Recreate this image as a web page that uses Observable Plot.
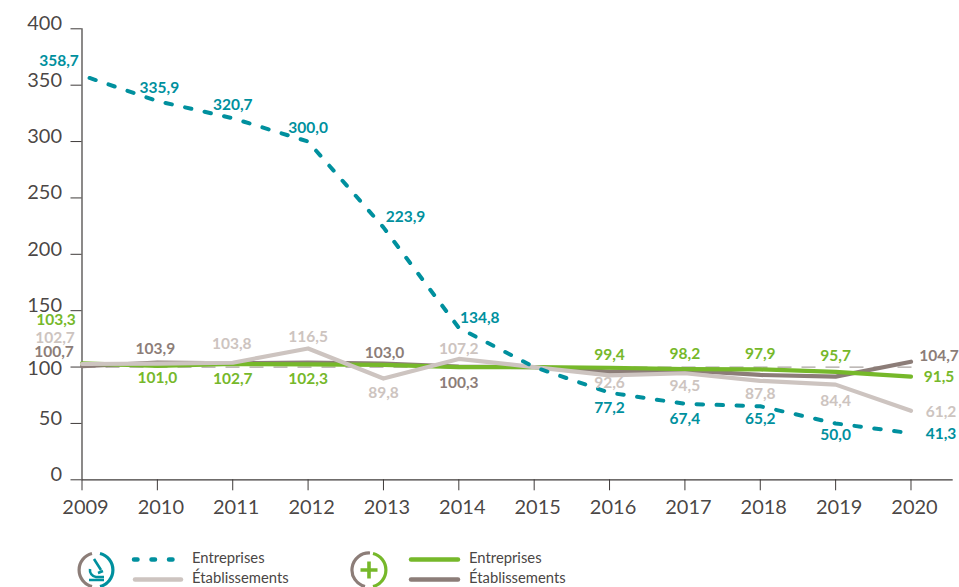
<!DOCTYPE html>
<html lang="fr">
<head>
<meta charset="utf-8">
<script src="https://cdn.jsdelivr.net/npm/d3@7"></script>
<script src="https://cdn.jsdelivr.net/npm/@observablehq/plot@0.6"></script>
<style>
html,body{margin:0;padding:0;background:#fff;overflow:hidden}
#wrap{position:relative;width:959px;height:587px;font-family:Lato,sans-serif}
#legend{position:absolute;left:0;top:0}
</style>
</head>
<body>
<div id="wrap"><div id="chart"></div>
<svg id="legend" width="959" height="587" style="pointer-events:none" font-family="Lato,sans-serif" font-size="14.8" fill="#4a4645">
  <g fill="none" stroke-width="3.2">
    <path d="M92 553.5 A17 17 0 0 0 92 586.5" stroke="#8c7d78"/>
    <path d="M100 553.5 A17 17 0 0 1 100 586.5" stroke="#00909e"/>
    <path d="M370 553 A17 17 0 0 0 365 586.5" stroke="#8c7d78"/>
    <path d="M373 553.5 A17 17 0 0 1 373 586.5" stroke="#76b82a"/>
    <path d="M369 561.5 V578.5 M360.5 570 H377.5" stroke="#76b82a" stroke-width="3.6"/>
    <path d="M94 559 L101 570 M90 569 A7 7 0 0 0 96 577 H104 M89 580 H104 M98 573 L103 571" stroke="#00909e" stroke-width="2.6"/>
  </g>
  <path d="M134 559.5 H178" fill="none" stroke="#00909e" stroke-width="4.5" stroke-linecap="round" stroke-dasharray="3.5 14"/>
  <path d="M135 579.5 H181" fill="none" stroke="#cdc4c0" stroke-width="4.5" stroke-linecap="round"/>
  <path d="M411 559.5 H458" fill="none" stroke="#76b82a" stroke-width="4.5" stroke-linecap="round"/>
  <path d="M411 579.5 H458" fill="none" stroke="#8c7d78" stroke-width="4.5" stroke-linecap="round"/>
  <text x="192" y="563">Entreprises</text>
  <text x="192" y="583">Établissements</text>
  <text x="469" y="563">Entreprises</text>
  <text x="469" y="583">Établissements</text>
</svg>
</div>
<script>
const years = [2009,2010,2011,2012,2013,2014,2015,2016,2017,2018,2019,2020];
const rdEntreprises = [358.7,335.9,320.7,300.0,223.9,134.8,100,77.2,67.4,65.2,50.0,41.3];
const rdEtablissements = [102.7,103.0,103.8,116.5,89.8,107.2,100,92.6,94.5,87.8,84.4,61.2];
const plusEntreprises = [103.3,101.0,102.7,102.3,102.0,100.0,100,99.4,98.2,97.9,95.7,91.5];
const plusEtablissements = [100.7,103.9,103.2,104.0,103.0,100.3,100,96.0,97.0,93.0,91.5,104.7];
const yTicks = [0,50,100,150,200,250,300,350,400];

const colors = {teal:"#00909e", lightGrey:"#cdc4c0", green:"#76b82a", brown:"#8c7d78"};
const ink = "#3f3b3a";

// Label placement: [index in series, dx, dy] in pixels relative to the data point.
const tealPlacement = [[0,-23,-14],[1,2,-13],[2,0,-13],[3,0,-14],[4,22,-10],[5,21,-10],[7,0,15],[8,0,15],[9,0,13],[10,0,12],[11,30,1]];
const greenPlacement = [[0,-26,-43],[1,0,12],[2,0,15],[3,0,15],[7,0,-13],[8,0,-15],[9,0,-15],[10,0,-16],[11,28,0]];
const greyPlacement = [[0,-27,-26],[2,-1,-19],[3,0,-11],[4,0,14],[5,0,-10],[7,0,8],[8,0,13],[9,0,13],[10,0,16],[11,30,1]];
const brownPlacement = [[0,-28,-14],[1,-2,-14],[4,1,-11],[5,0,16],[11,28,-6]];

const fr = v => v.toFixed(1).replace(".", ",");
const rows = s => years.map((year,i)=>({year, value:s[i]}));
const labels = (s, placement, fill) => placement.map(([i,dx,dy]) =>
  Plot.text([{year:years[i], value:s[i]}], {
    x:"year", y:"value", text:d=>fr(d.value), dx, dy, fill,
    fontSize:15.5, fontWeight:700, textAnchor:"middle", lineAnchor:"middle"
  }));

const axisText = {fontSize:20, fill:ink, fillOpacity:.95, label:null};
const plot = Plot.plot({
  width:959, height:515,
  marginLeft:81.5, marginRight:6.3, marginTop:28.3, marginBottom:35.7,
  style:{fontFamily:"Lato,sans-serif", background:"transparent", overflow:"visible"},
  x:{domain:[2009,2020.56], label:null},
  y:{domain:[0,400], label:null},
  marks:[
    Plot.axisX({ticks:years, tickSize:11, text:null, stroke:ink, strokeOpacity:1, label:null}),
    Plot.axisX({ticks:years, tickFormat:d=>String(d), tickSize:0, tickPadding:20, dx:3.5, ...axisText}),
    Plot.axisY({ticks:yTicks, tickSize:11, text:null, stroke:ink, strokeOpacity:1, label:null}),
    Plot.axisY({ticks:yTicks.filter(t=>t!==100), tickSize:0, tickPadding:20, dy:-5, ...axisText}),
    Plot.axisY({ticks:[100], tickSize:0, tickPadding:20, dy:1.5, ...axisText}),
    Plot.ruleY([0],{stroke:ink, strokeWidth:1.2}),
    Plot.ruleX([2009],{stroke:ink, strokeWidth:1.2}),
    Plot.ruleY([100],{x1:2009, x2:2020.06, stroke:"#a9a3a0", strokeWidth:1.3, strokeDasharray:"14 10"}),
    Plot.line(rows(plusEtablissements),{x:"year",y:"value",stroke:colors.brown,strokeWidth:4.2,strokeLinecap:"round"}),
    Plot.line(rows(plusEntreprises),{x:"year",y:"value",stroke:colors.green,strokeWidth:4.2,strokeLinecap:"round"}),
    Plot.line(rows(rdEtablissements),{x:"year",y:"value",stroke:colors.lightGrey,strokeWidth:4.2,strokeLinecap:"round"}),
    Plot.line(rows(rdEntreprises),{x:"year",y:"value",stroke:colors.teal,strokeWidth:4,strokeLinecap:"round",strokeDasharray:"6.5 13.5",strokeDashoffset:12}),
    ...labels(rdEntreprises,tealPlacement,colors.teal),
    ...labels(plusEntreprises,greenPlacement,colors.green),
    ...labels(rdEtablissements,greyPlacement,colors.lightGrey),
    ...labels(plusEtablissements,brownPlacement,colors.brown)
  ]
});
document.getElementById("chart").appendChild(plot);
</script>
</body>
</html>
